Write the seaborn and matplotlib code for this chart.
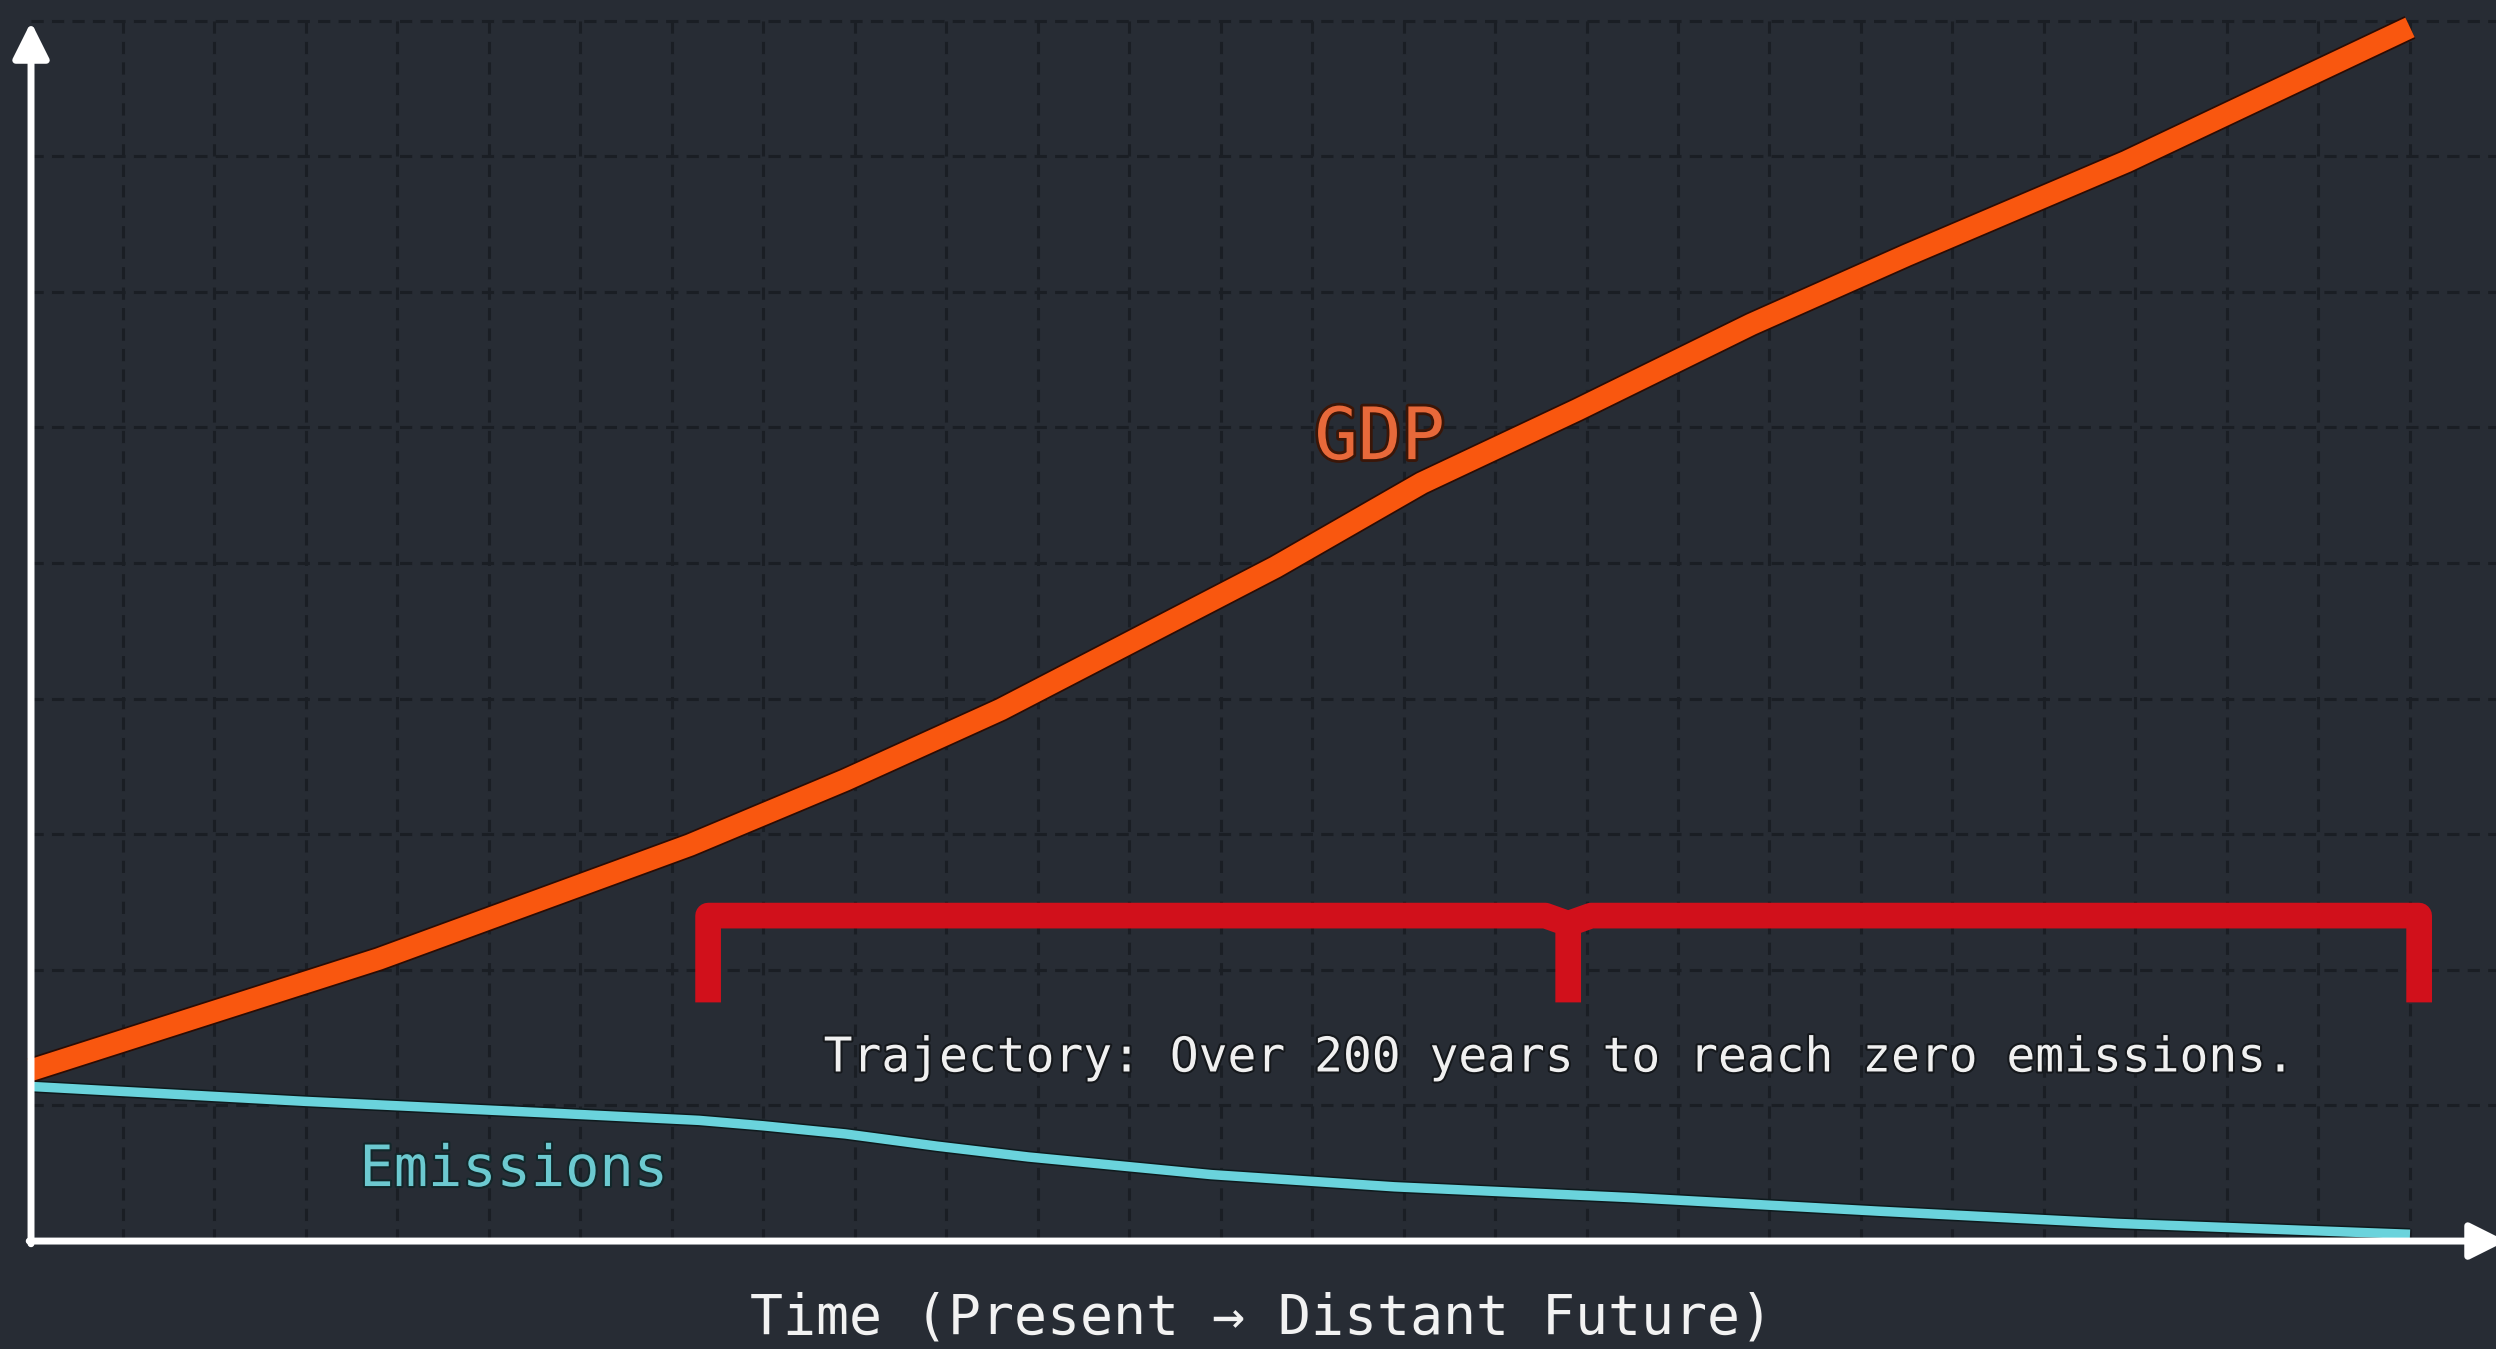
import numpy as np
import pandas as pd
import seaborn as sns
import matplotlib
matplotlib.use('Agg')
from matplotlib import pyplot as plt
from matplotlib import patheffects as pe

# values (x: years from today, y: index)
years_gdp = [0, 38, 72, 89, 106, 120, 136, 152, 169, 188, 205, 229, 260]
gdp = [12.6, 20.8, 29.2, 34.0, 39.2, 44.1, 49.7, 55.9, 61.3, 67.6, 72.7, 79.6, 89.5]
years_em = [0, 30, 58, 73, 80, 89, 99, 109, 129, 149, 175, 202, 228, 260]
emissions = [11.4, 10.3, 9.4, 8.9, 8.5, 7.9, 7.0, 6.2, 4.9, 4.0, 3.2, 2.2, 1.3, 0.5]
grid_x = list(range(10, 270, 10))
grid_y = list(range(10, 100, 10))

# bracket: spans the "over 200 years" stretch
br_start, br_mid, br_end = 74, 168, 261
br_top, br_dip, br_bottom = 24.0, 23.4, 17.6

bg = '#272c34'
gdp_col = '#f9570f'
em_col = '#6ad3dc'
red = '#d1101b'
grid_col = '#1a1e24'

sns.set_theme(style='dark', rc={'axes.facecolor': bg, 'figure.facecolor': bg})
plt.rcParams['font.family'] = ['DejaVu Sans Mono', 'DejaVu Sans']

fig = plt.figure(figsize=(24.96, 13.49), dpi=100)
ax = fig.add_axes([0, 0, 1, 1])
ax.set_xlim(-3.39, 269.4)
ax.set_ylim(-7.96, 91.52)

# dashed background grid
ax.vlines(grid_x, 0, 90, colors=grid_col, linewidth=2.2, linestyles=(0, (4, 2.7)), zorder=1)
ax.hlines(grid_y, 0, 269.4, colors=grid_col, linewidth=2.2, linestyles=(0, (4, 2.7)), zorder=1)

df_gdp = pd.DataFrame({'year': years_gdp, 'value': gdp})
df_em = pd.DataFrame({'year': years_em, 'value': emissions})

sns.lineplot(data=df_em, x='year', y='value', ax=ax, color=em_col, linewidth=6.8,
             solid_capstyle='butt', solid_joinstyle='round', zorder=3,
             path_effects=[pe.Stroke(linewidth=9, foreground='#0e1a1d'), pe.Normal()])
sns.lineplot(data=df_gdp, x='year', y='value', ax=ax, color=gdp_col, linewidth=15.5,
             solid_capstyle='butt', solid_joinstyle='round', zorder=4,
             path_effects=[pe.Stroke(linewidth=18, foreground='#2a0c04'), pe.Normal()])
ax.axis('off')

# red bracket
ax.plot([br_start, br_start, br_mid - 2.5, br_mid, br_mid],
        [br_bottom, br_top, br_top, br_dip, br_bottom],
        color=red, linewidth=18.5, solid_joinstyle='round', solid_capstyle='butt', zorder=5)
ax.plot([br_end, br_end, br_mid + 2.5, br_mid],
        [br_bottom, br_top, br_top, br_dip],
        color=red, linewidth=18.5, solid_joinstyle='round', solid_capstyle='butt', zorder=5)

# labels
ax.text(147.4, 59.1, 'GDP', color='#e8693a', fontsize=52, ha='center', va='center',
        zorder=6, path_effects=[pe.withStroke(linewidth=4, foreground='#3a1608')])
ax.text(52.8, 5.2, 'Emissions', color='#6cc9d0', fontsize=41, ha='center', va='center',
        zorder=6, path_effects=[pe.withStroke(linewidth=3, foreground='#12272a')])
ax.text(167.1, 13.5, 'Trajectory: Over 200 years to reach zero emissions.', color='#f0f0f0',
        fontsize=34.5, ha='center', va='center', zorder=6,
        path_effects=[pe.withStroke(linewidth=3, foreground='#15181c')])
ax.text(134.5, -5.7, 'Time (Present \u2192 Distant Future)', color='#f2f2f2',
        fontsize=39.5, ha='center', va='center', zorder=6)

# axis arrows
arrow = dict(arrowstyle='-|>', color='white', lw=5, mutation_scale=55, shrinkA=0, shrinkB=0)
ax.annotate('', xy=(0, 89.9), xytext=(0, -0.2), arrowprops=arrow, zorder=7)
ax.annotate('', xy=(270.5, 0), xytext=(-0.2, 0), arrowprops=arrow, zorder=7,
            annotation_clip=False)

fig.savefig('out.png', dpi=100, facecolor=fig.get_facecolor())
